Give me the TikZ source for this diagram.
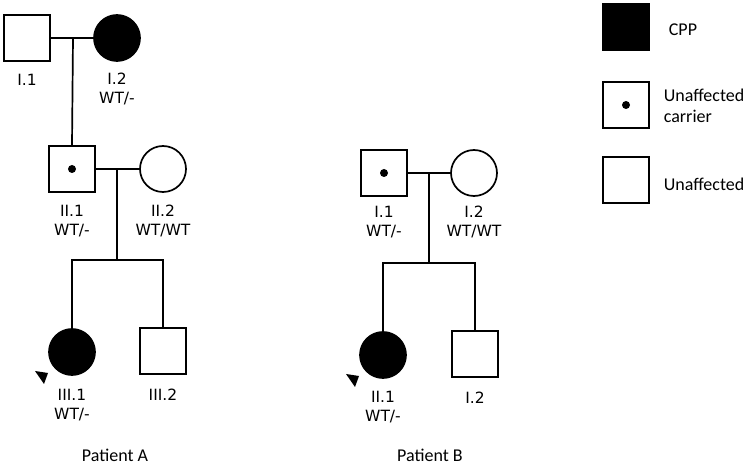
\documentclass[tikz,border=0pt]{standalone}
\usepackage{fontspec}
\setmainfont{DejaVu Sans}
\newfontfamily\legfont{Carlito}
\begin{document}
\begin{tikzpicture}[x=1pt,y=-1pt,line width=1.7pt,
  male/.style={draw,rectangle,minimum size=46pt,inner sep=0pt,fill=white},
  female/.style={draw,circle,minimum size=46pt,inner sep=0pt,fill=white},
  aff/.style={fill=black},
  lbl/.style={font=\fontsize{15.5}{19}\selectfont,align=center,inner sep=0pt},
  leg/.style={font=\legfont\fontsize{18}{21}\selectfont,align=left,inner sep=0pt,anchor=west},
  dotmark/.style={circle,fill=black,inner sep=0pt,minimum size=8pt}]
\useasboundingbox (0,0) rectangle (748,465);
% ---------------- Patient A ----------------
\node[male] (AI1) at (27,38) {};
\node[female,aff] (AI2) at (117,38) {};
\node[male] (AII1) at (72,169) {};
\node[dotmark] (AII1d) at (AII1.center) {};
\node[female] (AII2) at (163,169) {};
\node[female,aff] (AIII1) at (72,352) {};
\node[male] (AIII2) at (163,351) {};
\coordinate (mA1) at (73,38);
\coordinate (mA2) at (117,169);
\coordinate (sA) at (117,260);
\draw (AI1.east) -- (AI2.west);
\draw (mA1) -- (AII1.north);
\draw (AII1.east) -- (AII2.west);
\draw (mA2) -- (sA);
\draw (AIII1.north) -- (AIII1.north |- sA) -- (AIII2.north |- sA) -- (AIII2.north);
\fill ([shift={(-37,19)}]AIII1.center) -- ([shift={(-24,21)}]AIII1.center) -- ([shift={(-28,32)}]AIII1.center) -- cycle;
\node[lbl] (lAI1) at (27,80) {I.1};
\node[lbl] (lAI2) at (117,89) {I.2\\WT/-};
\node[lbl] (lAII1) at (72,221) {II.1\\WT/-};
\node[lbl] (lAII2) at (163,221) {II.2\\WT/WT};
\node[lbl] (lAIII1) at (72,405) {III.1\\WT/-};
\node[lbl] (lAIII2) at (163,395) {III.2};
\node[leg,anchor=center] (pA) at (115,455) {Patient A};
% ---------------- Patient B ----------------
\node[male] (BI1) at (384,173) {};
\node[dotmark] (BI1d) at (BI1.center) {};
\node[female] (BI2) at (474,173) {};
\node[female,aff] (BII1) at (383,355) {};
\node[male] (BII2) at (475,354) {};
\coordinate (mB) at (429,173);
\coordinate (sB) at (429,263);
\draw (BI1.east) -- (BI2.west);
\draw (mB) -- (sB);
\draw (BII1.north) -- (BII1.north |- sB) -- (BII2.north |- sB) -- (BII2.north);
\fill ([shift={(-37,19)}]BII1.center) -- ([shift={(-24,21)}]BII1.center) -- ([shift={(-28,32)}]BII1.center) -- cycle;
\node[lbl] (lBI1) at (384,222) {I.1\\WT/-};
\node[lbl] (lBI2) at (474,222) {I.2\\WT/WT};
\node[lbl] (lBII1) at (383,407) {II.1\\WT/-};
\node[lbl] (lBII2) at (475,398) {I.2};
\node[leg,anchor=center] (pB) at (430,455) {Patient B};
% ---------------- Legend ----------------
\node[male,aff] (L1) at (626,27) {};
\node[male] (L2) at (626,105) {};
\node[dotmark] (L2d) at (L2.center) {};
\node[male] (L3) at (626,180) {};
\node[leg] (tL1) at (668,30) {CPP};
\node[leg] (tL2) at (663,106) {Unaffected\\carrier};
\node[leg] (tL3) at (663,184) {Unaffected};
\end{tikzpicture}
\end{document}
